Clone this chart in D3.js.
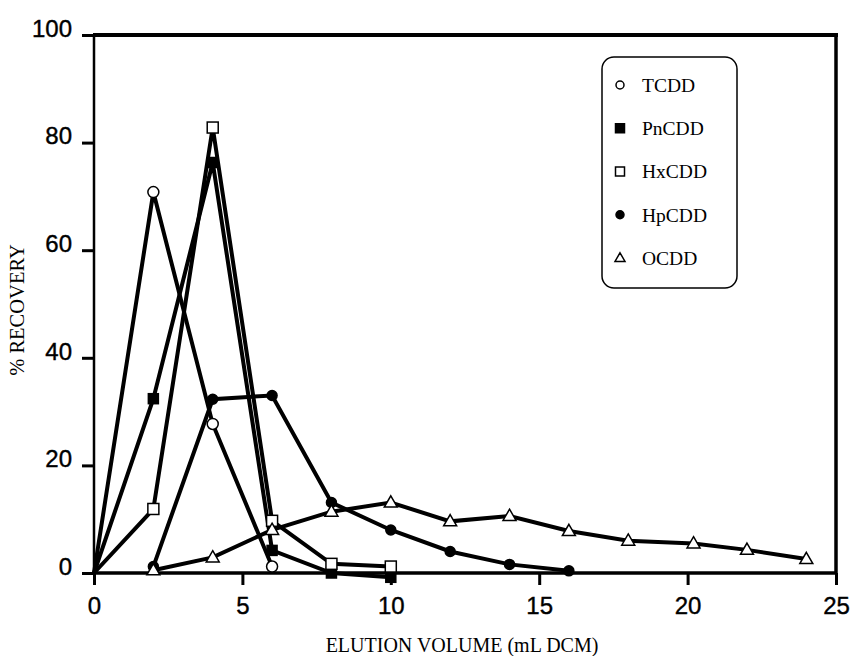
<!DOCTYPE html>
<html>
<head>
<meta charset="utf-8">
<script src="https://cdn.jsdelivr.net/npm/d3@7"></script>
<style>
  body { margin: 0; background: #fff; }
  svg { display: block; }
</style>
</head>
<body>
<div id="chart"></div>
<script>
// data: elution volume (mL DCM) vs % recovery
const tcddX = [0, 2, 4, 6];
const tcddY = [0, 70.8, 27.7, 1.2];
const pncddX = [0, 2, 4, 6, 8, 10];
const pncddY = [0, 32.4, 76.3, 4.2, 0, -0.8];
const hxcddX = [0, 2, 4, 6, 8, 10];
const hxcddY = [0, 11.9, 82.8, 9.7, 1.7, 1.2];
const hpcddX = [2, 4, 6, 8, 10, 12, 14, 16];
const hpcddY = [1.2, 32.3, 33.0, 13.1, 8.0, 4.0, 1.6, 0.4];
const ocddX = [2, 4, 6, 8, 10, 12, 14, 16, 18, 20.2, 22, 24];
const ocddY = [0.5, 2.9, 8.0, 11.4, 13.1, 9.6, 10.6, 7.8, 6.0, 5.5, 4.3, 2.6];

const seriesNames = ["TCDD", "PnCDD", "HxCDD", "HpCDD", "OCDD"];
const seriesShapes = ["circleOpen", "squareFilled", "squareOpen", "circleFilled", "triangleOpen"];
const xTicks = [0, 5, 10, 15, 20, 25];
const yTicks = [0, 20, 40, 60, 80, 100];

const W = 853, H = 656;
const svg = d3.select("#chart").append("svg")
    .attr("width", W)
    .attr("height", H);

const x = d3.scaleLinear().domain([0, 25]).range([94, 836]);
const y = d3.scaleLinear().domain([0, 100]).range([573, 35]);

const series = [
    [tcddX, tcddY], [pncddX, pncddY], [hxcddX, hxcddY], [hpcddX, hpcddY], [ocddX, ocddY]
].map(([xs, ys], i) => ({
    name: seriesNames[i],
    shape: seriesShapes[i],
    points: xs.map((v, j) => ({ x: v, y: ys[j] }))
}));

// axes
const axisFont = "'Liberation Sans', Arial, Helvetica, sans-serif";
const serif = "'Liberation Serif', 'Times New Roman', Times, serif";

const gy = svg.append("g")
    .attr("transform", `translate(${x(0)},0)`)
    .call(d3.axisLeft(y).tickValues(yTicks).tickSize(12).tickPadding(10).tickSizeOuter(0));
gy.select(".domain").remove();
gy.selectAll(".tick line").attr("stroke", "#000").attr("stroke-width", 3);
gy.selectAll(".tick text")
    .attr("dy", "0.05em")
    .style("font-family", axisFont)
    .style("font-size", "24px")
    .attr("fill", "#000")
    .attr("stroke", "#000")
    .attr("stroke-width", 0.4);

const gx = svg.append("g")
    .attr("transform", `translate(0,${y(0)})`)
    .call(d3.axisBottom(x).tickValues(xTicks).tickSize(12).tickPadding(7).tickSizeOuter(0));
gx.select(".domain").remove();
gx.selectAll(".tick line").attr("stroke", "#000").attr("stroke-width", 3);
gx.selectAll(".tick text")
    .attr("dy", "0.9em")
    .style("font-family", axisFont)
    .style("font-size", "24px")
    .attr("fill", "#000")
    .attr("stroke", "#000")
    .attr("stroke-width", 0.4);

// frame
const frame = svg.append("g").attr("stroke", "#000").attr("fill", "none");
frame.append("line").attr("x1", x(0)).attr("x2", x(0)).attr("y1", y(100)).attr("y2", y(0)).attr("stroke-width", 2.5);
frame.append("line").attr("x1", x(0) - 1).attr("x2", x(25) + 2).attr("y1", y(100)).attr("y2", y(100)).attr("stroke-width", 4);
frame.append("line").attr("x1", x(25)).attr("x2", x(25)).attr("y1", y(100)).attr("y2", y(0)).attr("stroke-width", 3.5);
frame.append("line").attr("x1", x(0)).attr("x2", x(25)).attr("y1", y(0)).attr("y2", y(0)).attr("stroke-width", 3.5);

// axis titles
svg.append("text")
    .attr("x", 462)
    .attr("y", 652)
    .attr("text-anchor", "middle")
    .style("font-family", serif)
    .style("font-size", "20px")
    .text("ELUTION VOLUME (mL DCM)");

svg.append("text")
    .attr("transform", "translate(24,310) rotate(-90)")
    .attr("text-anchor", "middle")
    .style("font-family", serif)
    .style("font-size", "20.5px")
    .text("% RECOVERY");

// lines
const line = d3.line().x(d => x(d.x)).y(d => y(d.y));
const plot = svg.append("g");

function drawMarker(g, shape, cx, cy, s) {
    const open = shape.endsWith("Open");
    const fill = open ? "#fff" : "#000";
    if (shape.startsWith("circle")) {
        g.append("circle").attr("cx", cx).attr("cy", cy).attr("r", s / 2)
            .attr("fill", fill).attr("stroke", "#000").attr("stroke-width", 1.5);
    } else if (shape.startsWith("square")) {
        g.append("rect").attr("x", cx - s / 2).attr("y", cy - s / 2).attr("width", s).attr("height", s)
            .attr("fill", fill).attr("stroke", "#000").attr("stroke-width", 1.5);
    } else {
        const h = s * Math.sqrt(3) / 2;
        g.append("path")
            .attr("d", `M${cx},${cy - h * 0.6}L${cx + s / 2},${cy + h * 0.4}L${cx - s / 2},${cy + h * 0.4}Z`)
            .attr("fill", fill).attr("stroke", "#000").attr("stroke-width", 1.5);
    }
}

const markerSize = { circleOpen: 11, squareFilled: 10, squareOpen: 11, circleFilled: 10, triangleOpen: 13 };

series.forEach(s => {
    plot.append("path")
        .datum(s.points)
        .attr("d", line)
        .attr("fill", "none")
        .attr("stroke", "#000")
        .attr("stroke-width", 4);
});
series.forEach(s => {
    const g = plot.append("g");
    s.points.filter(p => p.x > 0).forEach(p => {
        drawMarker(g, s.shape, x(p.x), y(p.y), markerSize[s.shape]);
    });
});

// legend
const legend = svg.append("g");
legend.append("rect")
    .attr("x", 602).attr("y", 57)
    .attr("width", 135).attr("height", 231)
    .attr("rx", 12)
    .attr("fill", "#fff")
    .attr("stroke", "#000")
    .attr("stroke-width", 1.5);

const legendY = d3.scalePoint().domain(seriesNames).range([85, 258]);
const legendMarker = { circleOpen: 8, squareFilled: 9, squareOpen: 9, circleFilled: 8, triangleOpen: 10 };
series.forEach(s => {
    const cy = legendY(s.name);
    drawMarker(legend, s.shape, 620, cy, legendMarker[s.shape]);
    legend.append("text")
        .attr("x", 642)
        .attr("y", cy)
        .attr("dy", "0.35em")
        .style("font-family", serif)
        .style("font-size", "19.5px")
        .text(s.name);
});
</script>
</body>
</html>
